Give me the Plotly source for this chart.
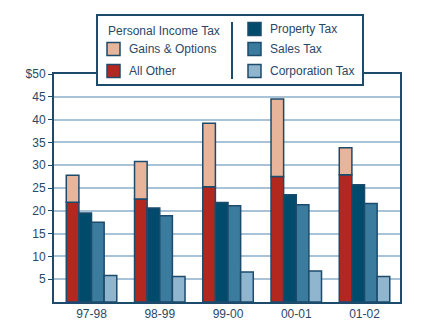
import plotly.graph_objects as go

years = ["97-98", "98-99", "99-00", "00-01", "01-02"]
all_other = [21.9, 22.6, 25.3, 27.5, 27.9]
gains_options = [5.9, 8.2, 13.9, 17.0, 5.9]
property_tax = [19.5, 20.6, 21.8, 23.5, 25.7]
sales_tax = [17.5, 18.9, 21.1, 21.3, 21.6]
corporation_tax = [5.8, 5.6, 6.6, 6.8, 5.6]
y_ticks = [5, 10, 15, 20, 25, 30, 35, 40, 45, 50]
y_tick_labels = ["5", "10", "15", "20", "25", "30", "35", "40", "45", "$50"]

C_RED = "#B3281E"
C_PEACH = "#E8B49A"
C_PROP = "#004B6B"
C_SALES = "#3A7B9E"
C_CORP = "#8FB5CF"
C_LINE = "#1C4B6C"
C_TEXT = "#2A4866"
C_GRID = "#A8C3D8"

W, H = 421, 334
ML, MR, MT, MB = 54, 21, 74, 32
PW = W - ML - MR
PH = H - MT - MB

def px(x):
    return (x - ML) / PW

def py(y):
    return (H - MB - y) / PH

bar_line = dict(color=C_LINE, width=1.5)
fig = go.Figure()
fig.add_bar(x=years, y=all_other, offsetgroup="a", marker=dict(color=C_RED, line=bar_line), name="All Other")
fig.add_bar(x=years, y=gains_options, base=all_other, offsetgroup="a", marker=dict(color=C_PEACH, line=bar_line), name="Gains & Options")
fig.add_bar(x=years, y=property_tax, offsetgroup="b", marker=dict(color=C_PROP, line=bar_line), name="Property Tax")
fig.add_bar(x=years, y=sales_tax, offsetgroup="c", marker=dict(color=C_SALES, line=bar_line), name="Sales Tax")
fig.add_bar(x=years, y=corporation_tax, offsetgroup="d", marker=dict(color=C_CORP, line=bar_line), name="Corporation Tax")

font = dict(family="Liberation Sans, Arial, sans-serif", size=12, color=C_TEXT)

shapes = []
annotations = []
# legend box
shapes.append(dict(type="rect", xref="paper", yref="paper", x0=px(97), x1=px(363), y0=py(85), y1=py(15),
                   line=dict(color=C_LINE, width=2), fillcolor="white", layer="above"))
shapes.append(dict(type="line", xref="paper", yref="paper", x0=px(232), x1=px(232), y0=py(79), y1=py(22),
                   line=dict(color=C_LINE, width=2), layer="above"))
annotations.append(dict(xref="paper", yref="paper", x=px(106), y=py(31), text="Personal Income Tax",
                        showarrow=False, xanchor="left", yanchor="middle", font=font))
items = [
    (107, 49, C_PEACH, "Gains & Options"),
    (107, 71, C_RED, "All Other"),
    (248, 29, C_PROP, "Property Tax"),
    (248, 49, C_SALES, "Sales Tax"),
    (248, 71, C_CORP, "Corporation Tax"),
]
for x, y, col, label in items:
    shapes.append(dict(type="rect", xref="paper", yref="paper", x0=px(x), x1=px(x + 13), y0=py(y + 6.5), y1=py(y - 6.5),
                       line=dict(color=C_LINE, width=1.5), fillcolor=col, layer="above"))
    annotations.append(dict(xref="paper", yref="paper", x=px(x + 20), y=py(y), text=label,
                            showarrow=False, xanchor="left", yanchor="middle", font=font))

fig.update_layout(
    width=W, height=H,
    margin=dict(l=ML, r=MR, t=MT, b=MB),
    paper_bgcolor="white", plot_bgcolor="white",
    barmode="group", bargap=0.26, bargroupgap=0,
    showlegend=False,
    font=font,
    shapes=shapes, annotations=annotations,
)
fig.update_xaxes(type="category", range=[-0.55, 4.52], showline=True, mirror=True, linecolor=C_LINE, linewidth=2,
                 ticks="", tickfont=dict(size=12, color=C_TEXT), showgrid=False)
fig.update_yaxes(range=[0, 50], tickvals=y_ticks, ticktext=y_tick_labels, showline=True, mirror=True,
                 linecolor=C_LINE, linewidth=2, ticks="outside", ticklen=4, tickcolor=C_LINE,
                 showgrid=True, gridcolor=C_GRID, gridwidth=2, zeroline=False,
                 tickfont=dict(size=12, color=C_TEXT))

fig.write_html("out.html")
